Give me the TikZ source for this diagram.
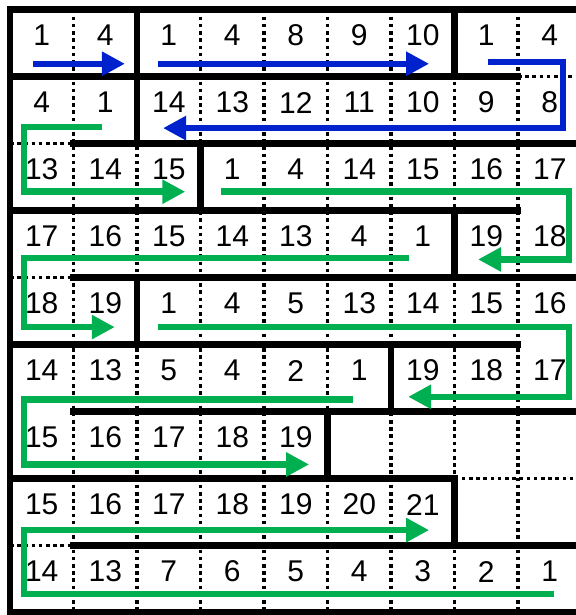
\documentclass[tikz,border=0pt]{standalone}
\usepackage{xcolor}
\usepackage{fontspec}
\setmainfont{Liberation Sans}
\usepackage{tikz}
\usetikzlibrary{arrows.meta}
\definecolor{azulFlecha}{HTML}{0022CC}
\definecolor{verdeFlecha}{HTML}{00B050}

\tikzset{
    grueso/.style={line width=6.5pt, line cap=rect},
    punteado/.style={line width=3.3pt, dash pattern=on 3.6pt off 3.6pt},
    flecha/.style={line width=6.5pt, -{Triangle[length=23pt,width=23pt]}},
    numero/.style={font=\fontsize{30}{36}\selectfont, inner sep=0pt}
}

\begin{document}
\begin{tikzpicture}[x=63.5pt, y=-67pt]

        % Marco de la imagen
        \useasboundingbox (-0.1575,-0.1418) rectangle (8.913,9.037);
        \clip (-0.1575,-0.1418) rectangle (8.913,9.037);

        % =====================================================
        % LINEAS PUNTEADAS
        % =====================================================

        \draw[punteado]
            (1,0) -- (1,9)
            (2,0) -- (2,9)
            (3,0) -- (3,9)
            (4,0) -- (4,9)
            (5,0) -- (5,9)
            (6,0) -- (6,9)
            (7,0) -- (7,9)
            (8,0) -- (8,9);

        \draw[punteado]
            (8,1) -- (9,1)
            (0,2) -- (1,2)
            (0,4) -- (1,4)
            (7,7) -- (9,7)
            (0,8) -- (1,8);

        % =====================================================
        % LINEAS GRUESAS
        % =====================================================

        % Borde
        \draw[grueso] (9,0) -- (0,0) -- (0,9) -- (9,9);

        % Horizontales
        \draw[grueso]
            (0,1) -- (8,1)
            (1,2) -- (9,2)
            (0,3) -- (8,3)
            (1,4) -- (9,4)
            (0,5) -- (8,5)
            (1,6) -- (9,6)
            (0,7) -- (7,7)
            (1,8) -- (9,8);

        % Verticales
        \draw[grueso]
            (2,0) -- (2,2)
            (7,0) -- (7,1)
            (3,2) -- (3,3)
            (7,3) -- (7,4)
            (2,4) -- (2,5)
            (6,5) -- (6,6)
            (5,6) -- (5,7)
            (7,7) -- (7,8);

        % =====================================================
        % NUMEROS
        % =====================================================

        % Fila 1
        \node[numero] (f1c1) at (0.5,0.39) {1};
        \node[numero] (f1c2) at (1.5,0.39) {4};
        \node[numero] (f1c3) at (2.5,0.39) {1};
        \node[numero] (f1c4) at (3.5,0.39) {4};
        \node[numero] (f1c5) at (4.5,0.39) {8};
        \node[numero] (f1c6) at (5.5,0.39) {9};
        \node[numero] (f1c7) at (6.5,0.39) {10};
        \node[numero] (f1c8) at (7.5,0.39) {1};
        \node[numero] (f1c9) at (8.5,0.39) {4};

        % Fila 2
        \node[numero] (f2c1) at (0.5,1.39) {4};
        \node[numero] (f2c2) at (1.5,1.39) {1};
        \node[numero] (f2c3) at (2.5,1.39) {14};
        \node[numero] (f2c4) at (3.5,1.39) {13};
        \node[numero] (f2c5) at (4.5,1.39) {12};
        \node[numero] (f2c6) at (5.5,1.39) {11};
        \node[numero] (f2c7) at (6.5,1.39) {10};
        \node[numero] (f2c8) at (7.5,1.39) {9};
        \node[numero] (f2c9) at (8.5,1.39) {8};

        % Fila 3
        \node[numero] (f3c1) at (0.5,2.39) {13};
        \node[numero] (f3c2) at (1.5,2.39) {14};
        \node[numero] (f3c3) at (2.5,2.39) {15};
        \node[numero] (f3c4) at (3.5,2.39) {1};
        \node[numero] (f3c5) at (4.5,2.39) {4};
        \node[numero] (f3c6) at (5.5,2.39) {14};
        \node[numero] (f3c7) at (6.5,2.39) {15};
        \node[numero] (f3c8) at (7.5,2.39) {16};
        \node[numero] (f3c9) at (8.5,2.39) {17};

        % Fila 4
        \node[numero] (f4c1) at (0.5,3.39) {17};
        \node[numero] (f4c2) at (1.5,3.39) {16};
        \node[numero] (f4c3) at (2.5,3.39) {15};
        \node[numero] (f4c4) at (3.5,3.39) {14};
        \node[numero] (f4c5) at (4.5,3.39) {13};
        \node[numero] (f4c6) at (5.5,3.39) {4};
        \node[numero] (f4c7) at (6.5,3.39) {1};
        \node[numero] (f4c8) at (7.5,3.39) {19};
        \node[numero] (f4c9) at (8.5,3.39) {18};

        % Fila 5
        \node[numero] (f5c1) at (0.5,4.39) {18};
        \node[numero] (f5c2) at (1.5,4.39) {19};
        \node[numero] (f5c3) at (2.5,4.39) {1};
        \node[numero] (f5c4) at (3.5,4.39) {4};
        \node[numero] (f5c5) at (4.5,4.39) {5};
        \node[numero] (f5c6) at (5.5,4.39) {13};
        \node[numero] (f5c7) at (6.5,4.39) {14};
        \node[numero] (f5c8) at (7.5,4.39) {15};
        \node[numero] (f5c9) at (8.5,4.39) {16};

        % Fila 6
        \node[numero] (f6c1) at (0.5,5.39) {14};
        \node[numero] (f6c2) at (1.5,5.39) {13};
        \node[numero] (f6c3) at (2.5,5.39) {5};
        \node[numero] (f6c4) at (3.5,5.39) {4};
        \node[numero] (f6c5) at (4.5,5.39) {2};
        \node[numero] (f6c6) at (5.5,5.39) {1};
        \node[numero] (f6c7) at (6.5,5.39) {19};
        \node[numero] (f6c8) at (7.5,5.39) {18};
        \node[numero] (f6c9) at (8.5,5.39) {17};

        % Fila 7
        \node[numero] (f7c1) at (0.5,6.39) {15};
        \node[numero] (f7c2) at (1.5,6.39) {16};
        \node[numero] (f7c3) at (2.5,6.39) {17};
        \node[numero] (f7c4) at (3.5,6.39) {18};
        \node[numero] (f7c5) at (4.5,6.39) {19};

        % Fila 8
        \node[numero] (f8c1) at (0.5,7.39) {15};
        \node[numero] (f8c2) at (1.5,7.39) {16};
        \node[numero] (f8c3) at (2.5,7.39) {17};
        \node[numero] (f8c4) at (3.5,7.39) {18};
        \node[numero] (f8c5) at (4.5,7.39) {19};
        \node[numero] (f8c6) at (5.5,7.39) {20};
        \node[numero] (f8c7) at (6.5,7.39) {21};

        % Fila 9
        \node[numero] (f9c1) at (0.5,8.39) {14};
        \node[numero] (f9c2) at (1.5,8.39) {13};
        \node[numero] (f9c3) at (2.5,8.39) {7};
        \node[numero] (f9c4) at (3.5,8.39) {6};
        \node[numero] (f9c5) at (4.5,8.39) {5};
        \node[numero] (f9c6) at (5.5,8.39) {4};
        \node[numero] (f9c7) at (6.5,8.39) {3};
        \node[numero] (f9c8) at (7.5,8.39) {2};
        \node[numero] (f9c9) at (8.5,8.39) {1};

        % =====================================================
        % FLECHAS AZULES
        % =====================================================

        \coordinate (az1i) at (0.36,0.81);
        \coordinate (az1f) at (1.81,0.81);
        \coordinate (az2i) at (2.33,0.81);
        \coordinate (az2f) at (6.60,0.81);
        \coordinate (az3i) at (7.53,0.78);
        \coordinate (az3e) at (8.71,1.77);
        \coordinate (az3f) at (2.41,1.77);

        \draw[flecha, azulFlecha] (az1i) -- (az1f);
        \draw[flecha, azulFlecha] (az2i) -- (az2f);
        \draw[flecha, azulFlecha] (az3i) -| (az3e) -- (az3f);

        % =====================================================
        % FLECHAS VERDES
        % =====================================================

        \coordinate (ve1i) at (1.45,1.75);
        \coordinate (ve1e) at (0.22,2.72);
        \coordinate (ve1f) at (2.76,2.72);

        \coordinate (ve2i) at (3.32,2.72);
        \coordinate (ve2e) at (8.80,3.73);
        \coordinate (ve2f) at (7.37,3.73);

        \coordinate (ve3i) at (6.28,3.71);
        \coordinate (ve3e) at (0.22,4.74);
        \coordinate (ve3f) at (1.65,4.74);

        \coordinate (ve4i) at (2.33,4.74);
        \coordinate (ve4e) at (8.80,5.78);
        \coordinate (ve4f) at (6.27,5.78);

        \coordinate (ve5i) at (5.40,5.82);
        \coordinate (ve5e) at (0.22,6.79);
        \coordinate (ve5f) at (4.71,6.79);

        \coordinate (ve6i) at (8.57,8.72);
        \coordinate (ve6e) at (0.22,7.77);
        \coordinate (ve6f) at (6.60,7.77);

        \draw[flecha, verdeFlecha] (ve1i) -| (ve1e) -- (ve1f);
        \draw[flecha, verdeFlecha] (ve2i) -| (ve2e) -- (ve2f);
        \draw[flecha, verdeFlecha] (ve3i) -| (ve3e) -- (ve3f);
        \draw[flecha, verdeFlecha] (ve4i) -| (ve4e) -- (ve4f);
        \draw[flecha, verdeFlecha] (ve5i) -| (ve5e) -- (ve5f);
        \draw[flecha, verdeFlecha] (ve6i) -| (ve6e) -- (ve6f);

\end{tikzpicture}
\end{document}
